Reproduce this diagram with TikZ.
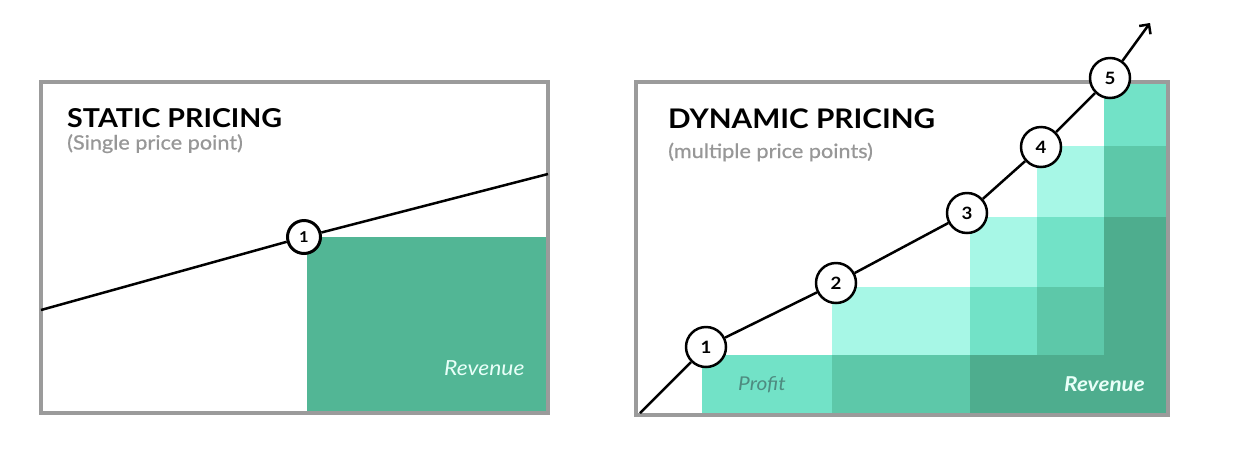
\documentclass[tikz,border=0pt]{standalone}
\usepackage{fontspec}
\setmainfont{Lato}[FakeStretch=1.1]
\newfontfamily\subfont{Lato}[FakeStretch=1.1, FakeBold=0.7]
\usetikzlibrary{arrows.meta, positioning}

\definecolor{framegray}{HTML}{9B9B9B}
\definecolor{subgray}{HTML}{979797}
\definecolor{revgreen}{HTML}{52B695}
\definecolor{tealA}{HTML}{A7F7E6}
\definecolor{tealB}{HTML}{72E2C7}
\definecolor{tealC}{HTML}{5DC8A9}
\definecolor{tealD}{HTML}{4EAD8E}
\definecolor{profitgray}{HTML}{4E8B80}
\definecolor{revtext}{HTML}{E8FFF8}

\begin{document}
\begin{tikzpicture}
[x=1pt, y=-1pt,
panel/.style={draw=framegray, line width=3.5pt},
title/.style={anchor=base west, inner sep=0pt, font=\fontsize{26}{30}\selectfont\bfseries},
subtitle/.style={anchor=base west, inner sep=0pt, text=subgray, font=\subfont\fontsize{19.7}{22}\selectfont},
label/.style={anchor=base west, inner sep=0pt, font=\fontsize{20.8}{22}\selectfont\itshape},
price/.style={circle, draw=black, fill=white, line width=2.5pt, inner sep=0pt,
              minimum size=40pt, font=\fontsize{17}{18}\selectfont\bfseries},
single/.style={price, line width=3pt, minimum size=33pt, font=\fontsize{15}{16}\selectfont\bfseries},
curve/.style={draw=black, line width=2.5pt}
]
    \useasboundingbox (0,0) rectangle (1244,456);

    % static pricing
    \fill[revgreen] (307,237) rectangle (548,413);
    \draw[panel] (41,82) rectangle (548,413);
    \node[title] (stitle) at (67,127) {STATIC PRICING};
    \node[subtitle] (ssub) at (67,149.5) {(Single price point)};
    \node[label, text=revtext] (srev) at (444,375.5) {Revenue};
    \coordinate (sa) at (41,310);
    \coordinate (sb) at (548,174);
    \node[single] (s1) at (304,237) {1};
    \draw[curve] (sa) -- (s1) -- (sb);

    % dynamic pricing
    \fill[tealB] (702,355) rectangle (832,414);
    \fill[tealC] (832,355) rectangle (970,414);
    \fill[tealD] (970,355) rectangle (1104,414);
    \fill[tealA] (832,287) rectangle (970,355);
    \fill[tealB] (970,287) rectangle (1037,355);
    \fill[tealC] (1037,287) rectangle (1104,355);
    \fill[tealA] (970,217) rectangle (1037,287);
    \fill[tealB] (1037,217) rectangle (1104,287);
    \fill[tealA] (1037,146) rectangle (1104,217);
    \fill[tealD] (1104,217) rectangle (1167,414);
    \fill[tealC] (1104,146) rectangle (1167,217);
    \fill[tealB] (1104,82) rectangle (1167,146);
    \draw[panel] (636,82) rectangle (1168,415);
    \node[title, font=\fontsize{27}{30}\selectfont\bfseries] (dtitle) at (668,128) {DYNAMIC PRICING};
    \node[subtitle] (dsub) at (668,158) {(multiple price points)};
    \node[label, text=profitgray, font=\fontsize{19}{22}\selectfont\itshape] (profit) at (738,390.5) {Profit};
    \node[label, text=revtext, font=\fontsize{20.5}{22}\selectfont\bfseries\itshape] (drev) at (1064,391) {Revenue};
    \coordinate (da) at (640,413);
    \coordinate (db) at (1150,23);
    \node[price] (p1) at (706,347) {1};
    \node[price] (p2) at (836,283) {2};
    \node[price] (p3) at (967,213) {3};
    \node[price] (p4) at (1041,147) {4};
    \node[price] (p5) at (1110,78) {5};
    \draw[curve] (da) -- (p1) -- (p2) -- (p3) -- (p4) -- (p5);
    \draw[curve, -{Straight Barb[length=7pt,width=14pt]}] (p5) -- (db);
\end{tikzpicture}
\end{document}
